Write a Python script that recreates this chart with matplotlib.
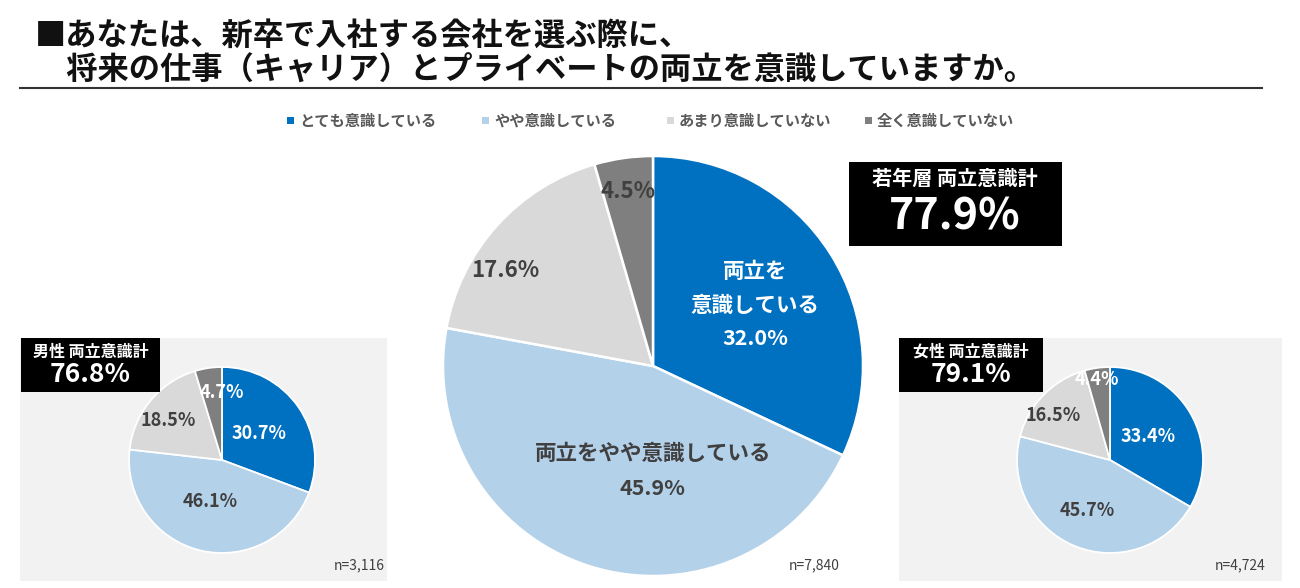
import matplotlib
matplotlib.use('Agg')
import matplotlib.pyplot as plt
from matplotlib.patches import Rectangle
from matplotlib.lines import Line2D

plt.rcParams['font.family'] = ['Noto Sans CJK JP', 'DejaVu Sans']

# ---------------- data ----------------
categories = ['とても意識している', 'やや意識している', 'あまり意識していない', '全く意識していない']
young_values = [32.0, 45.9, 17.6, 4.5]
male_values = [30.7, 46.1, 18.5, 4.7]
female_values = [33.4, 45.7, 16.5, 4.4]
young_n = '7,840'
male_n = '3,116'
female_n = '4,724'
title_lines = ['■あなたは、新卒で入社する会社を選ぶ際に、',
               '　将来の仕事（キャリア）とプライベートの両立を意識していますか。']
young_box_title = '若年層 両立意識計'
male_box_title = '男性 両立意識計'
female_box_title = '女性 両立意識計'
main_names = ['両立を\n意識している', '両立をやや意識している']

# ---------------- style ----------------
colors = ['#0070C0', '#B4D1EA', '#D9D9D9', '#7F7F7F']
dark = '#404040'
W, H = 1300, 588
fig = plt.figure(figsize=(W / 100, H / 100), dpi=100)
fig.patch.set_facecolor('white')


def fx(x):
    return x / W


def fy(y):
    return 1 - y / H


def rect(x0, y0, x1, y1, color, z):
    fig.add_artist(Rectangle((fx(x0), fy(y1)), (x1 - x0) / W, (y1 - y0) / H,
                             transform=fig.transFigure, facecolor=color,
                             edgecolor='none', zorder=z))


def pie_axes(cx, cy, r):
    ax = fig.add_axes([(cx - r) / W, 1 - (cy + r) / H, 2 * r / W, 2 * r / H])
    return ax


def finish(ax):
    ax.set_xlim(-1, 1)
    ax.set_ylim(-1, 1)
    ax.set_aspect('equal')
    ax.axis('off')


# title
fig.text(fx(35), fy(36), title_lines[0], fontsize=22.5, fontweight='bold',
         color='#111111', va='center', ha='left')
fig.text(fx(35), fy(71), title_lines[1], fontsize=22.5, fontweight='bold',
         color='#111111', va='center', ha='left')
fig.add_artist(Line2D([fx(20), fx(1262)], [fy(88), fy(88)], transform=fig.transFigure,
                      color='#333333', linewidth=1.5))

# legend
legend_x = [290, 485, 670, 868]
for x, c, lab in zip(legend_x, colors, categories):
    rect(x - 3, 117, x + 4, 124, c, 3)
    fig.text(fx(x + 9), fy(121), lab, fontsize=11, color='#595959',
             va='center', ha='left', fontweight='bold')

# side panels background
rect(20, 338, 387, 581, '#F2F2F2', -2)
rect(899, 338, 1282, 581, '#F2F2F2', -2)

wedge_kw = dict(startangle=90, counterclock=False, colors=colors, radius=1.0)

# main pie
axm = pie_axes(653, 366, 210)
axm.pie(young_values, wedgeprops=dict(edgecolor='white', linewidth=1.8), **wedge_kw)
finish(axm)
axm.text(0.486, 0.29, main_names[0] + '\n' + f'{young_values[0]:.1f}%', color='white',
         fontsize=15.5, fontweight='bold', ha='center', va='center', linespacing=1.75)
axm.text(0, -0.50, main_names[1] + '\n' + f'{young_values[1]:.1f}%', color=dark,
         fontsize=15.5, fontweight='bold', ha='center', va='center', linespacing=1.8)
axm.text(-0.705, 0.457, f'{young_values[2]:.1f}%', color=dark, fontsize=16,
         fontweight='bold', ha='center', va='center')
axm.text(-0.12, 0.83, f'{young_values[3]:.1f}%', color=dark, fontsize=16,
         fontweight='bold', ha='center', va='center')
fig.text(fx(840), fy(565), f'n={young_n}', fontsize=10, color=dark, ha='right', va='center')

# main box
rect(849, 162, 1062, 246, 'black', 5)
fig.text(fx(955), fy(178), young_box_title, color='white', fontsize=14.5,
         fontweight='bold', ha='center', va='center', zorder=6)
fig.text(fx(955), fy(216), f'{young_values[0] + young_values[1]:.1f}%', color='white',
         fontsize=31, fontweight='bold', ha='center', va='center', zorder=6)


def small_pie(cx, cy, values, pos, label_colors, n, box, box_title):
    ax = pie_axes(cx, cy, 93)
    ax.pie(values, wedgeprops=dict(edgecolor='white', linewidth=1.3), **wedge_kw)
    finish(ax)
    for v, (px, py), c in zip(values, pos, label_colors):
        ax.text(px, py, f'{v:.1f}%', color=c, fontsize=13, fontweight='bold',
                ha='center', va='center')
    fig.text(fx(n[0]), fy(565), f'n={n[1]}', fontsize=10, color=dark,
             ha='right', va='center')
    x0, x1 = box
    rect(x0, 338, x1, 392, 'black', 5)
    xc = (x0 + x1) / 2
    fig.text(fx(xc), fy(352), box_title, color='white', fontsize=11.5,
             fontweight='bold', ha='center', va='center', zorder=6)
    fig.text(fx(xc), fy(374), f'{values[0] + values[1]:.1f}%', color='white',
             fontsize=19, fontweight='bold', ha='center', va='center', zorder=6)


small_pie(222, 460, male_values,
          [(0.40, 0.28), (-0.13, -0.45), (-0.58, 0.42), (0.0, 0.73)],
          ['white', dark, dark, 'white'], (385, male_n), (21, 160), male_box_title)
small_pie(1110, 460, female_values,
          [(0.41, 0.25), (-0.24, -0.54), (-0.61, 0.48), (-0.14, 0.87)],
          ['white', dark, dark, 'white'], (1265, female_n), (899, 1043), female_box_title)

fig.savefig('out.png', dpi=100, facecolor='white')
